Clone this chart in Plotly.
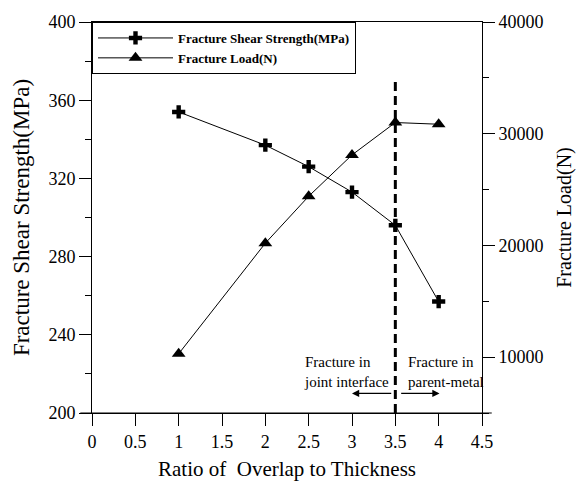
import plotly.graph_objects as go

# Overlap-to-thickness ratio for each specimen group
ratio = [1, 2, 2.5, 3, 3.5, 4]
# Fracture shear strength (MPa), left axis
shear_strength = [354, 337, 326, 313, 296, 257]
# Fracture load (N), right axis
fracture_load = [10300, 20200, 24400, 28100, 31000, 30850]

# Ratio where the fracture mode changes, and the height the marker line reaches
transition_ratio = 3.5
transition_top = 371

x_ticks = [0, 0.5, 1, 1.5, 2, 2.5, 3, 3.5, 4, 4.5]
left_ticks = [200, 240, 280, 320, 360, 400]
right_ticks = [10000, 20000, 30000, 40000]

FONT = "Times New Roman, Liberation Serif, serif"

fig = go.Figure()

fig.add_trace(go.Scatter(
    x=ratio, y=shear_strength, name="Fracture Shear Strength(MPa)",
    mode="lines+markers",
    line=dict(color="black", width=1),
    marker=dict(symbol="cross", size=11, color="black"),
    yaxis="y",
))
fig.add_trace(go.Scatter(
    x=ratio, y=fracture_load, name="Fracture Load(N)",
    mode="lines+markers",
    line=dict(color="black", width=1),
    marker=dict(symbol="triangle-up", size=12, color="black"),
    yaxis="y2",
))

# Dashed boundary between the two fracture modes
fig.add_shape(type="line", xref="x", yref="y",
              x0=transition_ratio, x1=transition_ratio, y0=200, y1=transition_top,
              line=dict(color="black", width=3, dash="9px,5px"))

# Bottom axis line runs a little past both vertical axes
fig.add_shape(type="line", xref="paper", yref="paper",
              x0=-0.03, x1=1.025, y0=0, y1=0,
              line=dict(color="black", width=1))

arrow_y = 210
fig.add_annotation(x=3.0, y=arrow_y, ax=transition_ratio - 0.03, ay=arrow_y,
                   xref="x", yref="y", axref="x", ayref="y", text="",
                   showarrow=True, arrowhead=2, arrowsize=1.2, arrowwidth=1.2,
                   arrowcolor="black")
fig.add_annotation(x=4.01, y=arrow_y, ax=transition_ratio + 0.05, ay=arrow_y,
                   xref="x", yref="y", axref="x", ayref="y", text="",
                   showarrow=True, arrowhead=2, arrowsize=1.2, arrowwidth=1.2,
                   arrowcolor="black")
fig.add_annotation(x=3.45, y=221, xref="x", yref="y", xanchor="right",
                   yanchor="middle", align="left", showarrow=False,
                   text="Fracture in<br>joint interface",
                   font=dict(family=FONT, size=15, color="black"))
fig.add_annotation(x=3.62, y=221, xref="x", yref="y", xanchor="left",
                   yanchor="middle", align="left", showarrow=False,
                   text="Fracture in<br>parent-metal",
                   font=dict(family=FONT, size=15, color="black"))

axis_common = dict(
    showline=True, linecolor="black", linewidth=1,
    ticks="outside", tickcolor="black", ticklen=12, tickwidth=1,
    showgrid=False, zeroline=False,
    tickfont=dict(family=FONT, size=18, color="black"),
)

fig.update_layout(
    width=584, height=488,
    margin=dict(l=92, r=94, t=20, b=70),
    paper_bgcolor="white", plot_bgcolor="white",
    font=dict(family=FONT, color="black"),
    xaxis=dict(
        **axis_common, range=[0, 4.5], tickvals=x_ticks, mirror=True,
        title=dict(text="Ratio of  Overlap to Thickness",
                   font=dict(family=FONT, size=21, color="black"), standoff=10),
    ),
    yaxis=dict(
        **axis_common, range=[200, 400], tickvals=left_ticks,
        minor=dict(dtick=20, ticks="outside", ticklen=6, tickcolor="black"),
        title=dict(text="Fracture Shear Strength(MPa)",
                   font=dict(family=FONT, size=23, color="black"), standoff=12),
    ),
    yaxis2=dict(
        **axis_common, range=[5000, 40000], tickvals=right_ticks, tickformat="d",
        overlaying="y", side="right",
        minor=dict(dtick=5000, ticks="outside", ticklen=6, tickcolor="black"),
        title=dict(text="Fracture Load(N)",
                   font=dict(family=FONT, size=20, color="black"), standoff=14),
    ),
    legend=dict(
        x=0, y=1, xanchor="left", yanchor="top",
        bgcolor="white", bordercolor="black", borderwidth=1,
        font=dict(family=FONT, size=13, color="black", weight="bold"),
        itemwidth=75, tracegroupgap=0,
    ),
)

fig.write_html("out.html")
